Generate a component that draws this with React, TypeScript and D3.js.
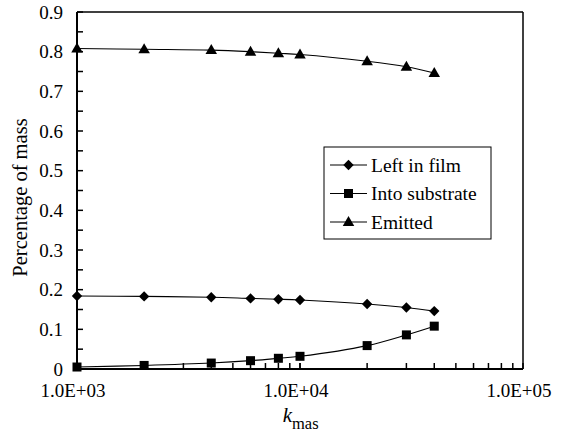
import React from "react";
import * as d3 from "d3";

const kValues = [1000, 2000, 4000, 6000, 8000, 10000, 20000, 30000, 40000];
const leftInFilm = [0.184, 0.183, 0.181, 0.178, 0.176, 0.174, 0.164, 0.155, 0.146];
const intoSubstrate = [0.005, 0.009, 0.015, 0.021, 0.027, 0.032, 0.059, 0.086, 0.108];
const emitted = [0.808, 0.806, 0.804, 0.8, 0.796, 0.793, 0.776, 0.762, 0.746];
const seriesNames = ["Left in film", "Into substrate", "Emitted"];
const markerKinds = ["diamond", "square", "triangle"];
const yTickLabels = [0, 0.1, 0.2, 0.3, 0.4, 0.5, 0.6, 0.7, 0.8, 0.9];
const xTickLabels = [1000, 10000, 100000];

const W = 561, H = 432;
const M = { left: 77, right: 523, top: 12, bottom: 369 };
const FS = { fontFamily: '"Liberation Serif", "Tinos", "FreeSerif", monospace' };

function Marker({ kind, x, y }: { kind: string; x: number; y: number }) {
  if (kind === "diamond") {
    const r = 5.2;
    return <path d={`M${x},${y - r}L${x + r},${y}L${x},${y + r}L${x - r},${y}Z`} fill="#000" />;
  }
  if (kind === "square") {
    const s = 9;
    return <rect x={x - s / 2} y={y - s / 2} width={s} height={s} fill="#000" />;
  }
  const w = 11.5, h = 10;
  return <path d={`M${x},${y - h * 0.6}L${x + w / 2},${y + h * 0.4}L${x - w / 2},${y + h * 0.4}Z`} fill="#000" />;
}

export default function App() {
  const x = d3.scaleLog().domain([1000, 100000]).range([M.left, M.right]);
  const y = d3.scaleLinear().domain([0, 0.9]).range([M.bottom, M.top]);
  const series = [leftInFilm, intoSubstrate, emitted];
  const line = d3
    .line<number>()
    .x((_, i) => x(kValues[i]))
    .y((d) => y(d))
    .curve(d3.curveCatmullRom.alpha(0.5));

  const yMinor = d3.range(0, 0.9001, 0.05);
  const xMinor: number[] = [];
  for (const dec of [1000, 10000]) for (let m = 1; m <= 10; m++) xMinor.push(dec * m);

  const legX = 324, legY = 147, legW = 167, legH = 92;
  const rowY = [165, 193.5, 222];

  return (
    <svg width={W} height={H} style={{ position: "absolute", left: 0, top: 0, background: "#fff" }}>
      <rect x={0} y={0} width={W} height={H} fill="#fff" />
      {series.map((s, si) => (
        <g key={si}>
          <path d={line(s) || ""} fill="none" stroke="#000" strokeWidth={1.1} />
          {s.map((v, i) => (
            <Marker key={i} kind={markerKinds[si]} x={x(kValues[i])} y={y(v)} />
          ))}
        </g>
      ))}
      <line x1={M.left} x2={M.right} y1={M.top} y2={M.top} stroke="#000" strokeWidth={1.5} />
      <line x1={M.right} x2={M.right} y1={M.top} y2={M.bottom} stroke="#000" strokeWidth={1.5} />
      <line x1={M.left} x2={M.left} y1={M.top} y2={M.bottom + 1} stroke="#000" strokeWidth={2} />
      <line x1={M.left} x2={M.right} y1={M.bottom} y2={M.bottom} stroke="#000" strokeWidth={2} />
      {yMinor.map((t, i) => (
        <line key={i} x1={M.left} x2={M.left + 6} y1={y(t)} y2={y(t)} stroke="#000" strokeWidth={1.5} />
      ))}
      {yTickLabels.map((t) => (
        <text key={t} x={63} y={y(t)} dy="0.35em" textAnchor="end" fontSize={19} style={FS}>
          {t === 0 ? "0" : t.toFixed(1)}
        </text>
      ))}
      {xMinor.map((t, i) => (
        <line key={i} x1={x(t)} x2={x(t)} y1={M.bottom} y2={M.bottom - 6} stroke="#000" strokeWidth={1.5} />
      ))}
      {xTickLabels.map((t) => (
        <text key={t} x={x(t) - 4} y={397} textAnchor="middle" fontSize={19} style={FS}>
          {d3.format(".1e")(t).toUpperCase().replace("E+", "E+0")}
        </text>
      ))}
      <text transform={`translate(27,${197.5}) rotate(-90)`} textAnchor="middle" fontSize={20.5} style={FS}>
        Percentage of mass
      </text>
      <text x={292} y={422} textAnchor="end" fontSize={21} fontStyle="italic" style={FS}>k</text>
      <text x={292} y={429} textAnchor="start" fontSize={16.5} style={FS}>mas</text>
      <rect x={legX} y={legY} width={legW} height={legH} fill="#fff" stroke="#000" strokeWidth={1} />
      {seriesNames.map((n, i) => (
        <g key={n}>
          <line x1={330} x2={367} y1={rowY[i]} y2={rowY[i]} stroke="#000" strokeWidth={1.1} />
          <Marker kind={markerKinds[i]} x={348.5} y={rowY[i]} />
          <text x={371} y={rowY[i]} dy="0.35em" fontSize={19.5} style={FS}>{n}</text>
        </g>
      ))}
    </svg>
  );
}
